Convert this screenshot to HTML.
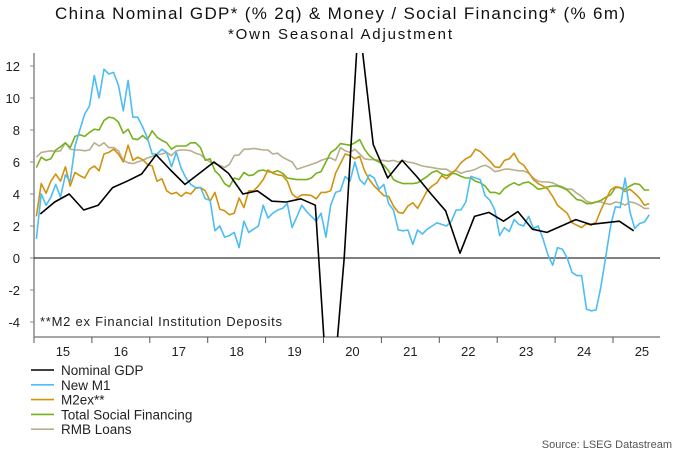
<!DOCTYPE html>
<html><head><meta charset="utf-8"><style>
html,body{margin:0;padding:0;background:#fff;}
svg{display:block;font-family:"Liberation Sans",sans-serif;}
</style></head><body>
<svg id="chart" width="680" height="454" viewBox="0 0 680 454">
<text x="340" y="19" text-anchor="middle" font-size="17" fill="#111" textLength="570">China Nominal GDP* (% 2q) &amp; Money / Social Financing* (% 6m)</text>
<text x="340" y="39" text-anchor="middle" font-size="15" fill="#111" textLength="224">*Own Seasonal Adjustment</text>
<defs><clipPath id="plotclip"><rect x="34" y="53" width="626" height="284"/></clipPath></defs>
<g id="axes"></g>
<g id="series" clip-path="url(#plotclip)"></g>
<text x="40" y="326" font-size="13" fill="#222" textLength="242">**M2 ex Financial Institution Deposits</text>
<g id="legend"></g>
<text x="672" y="448" text-anchor="end" font-size="11" fill="#555">Source: LSEG Datastream</text>
</svg>
<script>
const yTicks = [-4,-2,0,2,4,6,8,10,12];
const yearLabels = ["15","16","17","18","19","20","21","22","23","24","25"];
const gdp = [2.75,3.5,4.0,3.0, 3.3,4.4,4.8,5.25, 6.45,5.5,4.6,5.3, 6.0,5.3,4.0,4.2, 3.55,3.5,3.7,3.3, -10.7,0.0,15.0,7.1, 5.0,6.1,5.1,4.0, 2.95,0.3,2.6,2.85, 2.3,2.9,1.8,1.6, 2.0,2.4,2.1,2.2, 2.3,1.7];
const newM1 = [1.2,4.0,3.3,3.8,4.6,3.8,5.2,4.8,7.0,8.0,9.0,9.5,
11.4,10.0,11.8,11.5,11.6,10.8,9.2,11.1,8.8,8.8,8.2,7.5,
6.5,6.5,6.8,6.6,5.7,6.6,5.6,5.0,4.6,4.4,4.4,3.7,
3.6,1.7,2.0,1.3,1.4,1.6,0.65,2.3,1.6,1.8,2.0,3.3,
2.5,2.8,3.0,3.1,3.4,1.9,2.6,3.3,2.9,2.6,2.3,2.8,
1.3,3.3,4.1,4.2,5.1,4.8,6.0,4.9,4.6,5.2,5.0,4.3,
4.6,3.4,3.0,1.75,1.7,1.75,0.85,1.75,1.5,1.8,2.0,2.2,
2.1,2.0,2.3,3.0,3.0,3.5,5.1,5.0,4.9,3.9,3.6,3.0,
1.4,1.9,1.65,2.4,2.1,2.0,2.6,1.85,2.0,1.2,0.2,-0.45,
0.65,0.55,0.0,-0.9,-1.1,-1.1,-3.2,-3.3,-3.25,-1.8,0.1,2.0,
3.2,3.15,5.0,2.9,1.85,2.15,2.25,2.7];
const m2ex = [2.6,4.65,4.05,4.8,5.25,4.8,5.7,4.5,5.35,5.15,5.0,5.55,
5.75,5.45,6.5,6.6,6.8,6.5,6.0,7.05,6.1,6.3,6.15,5.85,
5.75,4.8,4.95,4.2,4.0,4.1,3.85,4.1,4.0,4.35,4.4,4.2,
3.55,4.1,3.05,2.95,2.7,2.8,3.75,3.15,4.2,4.2,4.5,4.9,
5.5,5.3,5.2,5.15,4.8,4.0,3.75,3.95,3.95,3.9,3.7,4.1,
4.1,4.2,5.3,5.9,6.5,6.4,6.2,6.35,5.45,4.9,4.5,4.2,
3.9,3.85,3.25,2.85,2.8,3.25,3.45,3.1,3.65,4.2,4.5,4.7,
5.15,4.95,5.25,5.55,5.95,6.2,6.35,6.8,6.65,6.35,6.05,5.7,
5.65,6.1,6.2,6.55,6.0,5.8,5.35,4.9,4.65,4.5,4.3,3.85,
3.3,3.05,2.8,2.2,2.05,1.9,2.15,2.05,2.25,3.0,3.65,4.25,
4.45,4.4,4.15,4.3,4.05,3.75,3.3,3.4];
const tsf = [5.65,6.3,6.1,6.2,6.75,6.95,7.2,6.9,7.6,7.7,7.6,7.85,
8.05,8.0,8.6,8.8,8.75,8.5,7.8,8.05,7.45,7.4,7.65,7.4,
7.95,7.55,7.35,7.2,6.8,7.0,7.0,7.0,7.2,7.2,6.9,6.1,
6.2,5.45,5.15,4.65,4.45,5.0,4.9,5.35,5.15,5.2,5.45,5.5,
5.4,5.35,5.45,5.3,5.0,4.95,4.9,4.9,4.9,5.0,5.3,5.4,
6.0,6.6,6.8,7.15,7.1,7.05,7.2,7.4,6.8,6.4,6.15,6.0,
5.8,5.45,4.9,4.75,4.65,4.65,4.65,4.7,4.9,5.1,5.35,5.45,
5.25,5.15,5.3,5.25,5.1,5.0,5.0,4.8,4.7,4.5,4.1,4.1,
4.0,4.35,4.55,4.7,4.55,4.7,4.75,4.55,4.3,4.35,4.45,4.5,
4.5,4.4,4.25,3.95,3.65,3.6,3.4,3.4,3.5,3.6,3.8,3.95,
4.4,4.4,4.3,4.5,4.65,4.6,4.25,4.25];
const rmbLoans = [6.3,6.6,6.65,6.7,6.65,6.7,7.2,6.8,6.75,6.75,6.7,6.75,
7.2,7.0,7.2,6.9,6.9,6.7,6.1,5.95,5.9,6.0,6.1,6.25,
6.35,6.45,6.5,6.6,6.4,6.7,6.75,6.75,6.7,6.55,6.45,6.2,
6.0,5.9,5.8,5.65,5.85,6.4,6.45,6.8,6.8,6.85,6.8,6.75,
6.75,6.5,6.55,6.3,6.15,6.0,5.55,5.65,5.75,5.85,5.95,6.1,
6.2,6.25,6.1,6.9,6.7,6.6,6.8,6.5,6.2,6.15,6.15,6.1,
6.1,6.05,6.1,6.0,6.1,6.0,5.95,5.85,5.75,5.7,5.65,5.6,
5.55,5.55,5.35,5.45,5.3,5.4,5.45,5.55,5.7,5.8,5.65,5.4,
5.45,5.55,5.55,5.5,5.45,5.45,5.3,5.0,4.8,4.75,4.75,4.7,
4.55,4.45,4.3,4.3,4.05,3.85,3.55,3.45,3.5,3.5,3.4,3.35,
3.5,3.45,3.3,3.5,3.45,3.3,3.1,3.1];

const NS = "http://www.w3.org/2000/svg";
const X0 = 34, X1 = 660, YEAR_W = 57.9, Y0 = 258, PX_PER_UNIT = 16, YB = 337, YT = 53;
function yScale(v){ return Y0 - v*PX_PER_UNIT; }
function xMonth(i){ return X0 + (i+0.5)*YEAR_W/12; }
function xQuarter(q){ return X0 + (3*q+1.3)*YEAR_W/12; }
function mk(tag, attrs, parent){ const e=document.createElementNS(NS,tag); for(const k in attrs) e.setAttribute(k,attrs[k]); parent.appendChild(e); return e; }

const axes = document.getElementById('axes');
const la = mk('line',{x1:X0,y1:YT,x2:X0,y2:YB,stroke:'#888','stroke-width':1.5},axes);


const ba = mk('line',{x1:X0,y1:YB,x2:X1,y2:YB,stroke:'#888','stroke-width':1.5},axes);


const zl = mk('line',{x1:X0,y1:Y0,x2:X1,y2:Y0,stroke:'#000','stroke-width':1},axes);


yTicks.forEach(v=>{
  const t = mk('text',{x:20,y:yScale(v)+5,'text-anchor':'end','font-size':13,fill:'#222'},axes);
  t.textContent = v;
  
  
  const tk = mk('line',{x1:X0-4,y1:yScale(v),x2:X0,y2:yScale(v),stroke:'#888'},axes);
  
  
});
yearLabels.forEach((lab,k)=>{
  const xs = X0 + k*YEAR_W;
  const tk = mk('line',{x1:xs,y1:YB,x2:xs,y2:YB+6,stroke:'#555'},axes);
  
  
  const t = mk('text',{x:xs+YEAR_W/2,y:356,'text-anchor':'middle','font-size':13,fill:'#222'},axes);
  t.textContent = lab;
  
  
});

const seriesG = document.getElementById('series');
function drawLine(vals, xf, color, name, w){
  const d = vals.map((v,i)=>(i?'L':'M')+xf(i).toFixed(1)+','+yScale(v).toFixed(1)).join(' ');
  const p = mk('path',{d:d,fill:'none',stroke:color,'stroke-width':w,'stroke-linejoin':'round'},seriesG);
  
  
}
drawLine(rmbLoans, xMonth, '#B8AF8E', 'rmb-loans-line', 1.6);
drawLine(tsf, xMonth, '#76B21B', 'total-social-financing-line', 1.6);
drawLine(m2ex, xMonth, '#D1930F', 'm2ex-line', 1.6);
drawLine(newM1, xMonth, '#4DBDF3', 'new-m1-line', 1.6);
drawLine(gdp, xQuarter, '#000', 'nominal-gdp-line', 1.6);

const legendNames = ["Nominal GDP","New M1","M2ex**","Total Social Financing","RMB Loans"];
const legendColors = ['#000','#4DBDF3','#D1930F','#76B21B','#B8AF8E'];
const lg = document.getElementById('legend');
legendNames.forEach((n,i)=>{
  const y = 370 + i*14.8;
  const g = mk('g',{},lg);
  
  
  mk('line',{x1:31,y1:y,x2:54,y2:y,stroke:legendColors[i],'stroke-width':1.6},g);
  const t = mk('text',{x:61,y:y+5,'font-size':13.5,fill:'#222'},g);
  t.textContent = n;
});
</script>
</body></html>
